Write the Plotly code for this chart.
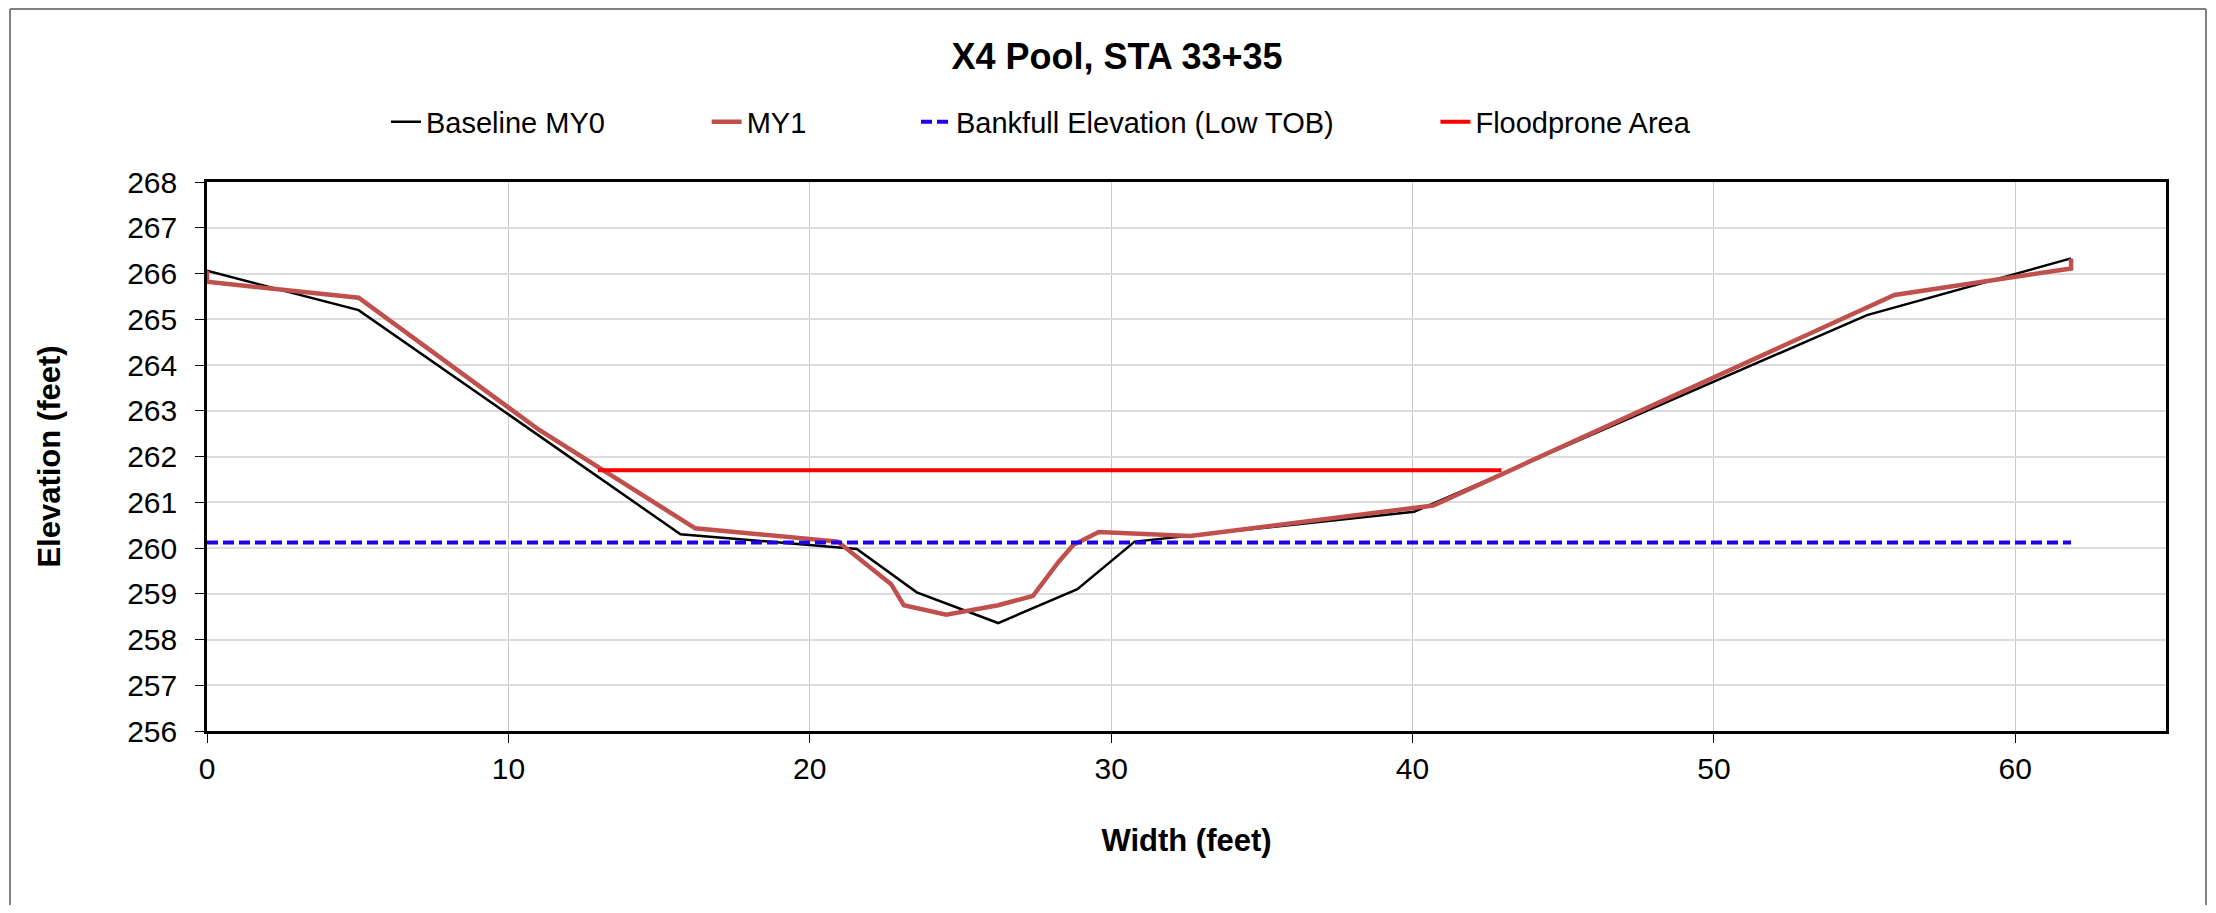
import plotly.graph_objects as go

# cross-section survey, X4 pool, STA 33+35
baseline_x = [0, 5.03, 15.71, 21.56, 23.55, 26.25, 28.88, 30.78, 40.05, 55.08, 61.85]
baseline_y = [266.06, 265.20, 260.30, 259.98, 259.03, 258.36, 259.10, 260.14, 260.79, 265.09, 266.33]

my1_x = [0, 0, 5.03, 11.0, 16.20, 20.93, 22.70, 23.12, 24.53, 26.25, 27.40, 28.26, 28.75, 29.59,
         32.63, 40.69, 55.99, 61.85, 61.85]
my1_y = [266.06, 265.82, 265.47, 262.59, 260.43, 260.14, 259.21, 258.75, 258.54, 258.75, 258.95, 259.70,
         260.07, 260.35, 260.26, 260.93, 265.53, 266.11, 266.33]

bankfull_x = [0, 61.85]
bankfull_y = [260.12, 260.12]

floodprone_x = [12.97, 42.95]
floodprone_y = [261.70, 261.70]

FONT = "Liberation Sans, Arial, sans-serif"
pad = "\u00a0"

# the page body has an 8px margin, so the figure sits 8px in from the corner;
# keep it small enough that no scrollbar shows up
OFF = 8
W, H = 2216 - 2 * OFF, 913 - 2 * OFF
L, T = 207 - OFF, 182 - OFF
PW, PH = 1959, 549


def px_x(p):
    return (p - OFF - L) / PW


def px_y(p):
    return (T + PH - (p - OFF)) / PH


fig = go.Figure()
fig.add_trace(go.Scatter(x=baseline_x, y=baseline_y, mode="lines", name="Baseline MY0" + pad * 12,
                         line=dict(color="black", width=2.5)))
fig.add_trace(go.Scatter(x=my1_x, y=my1_y, mode="lines", name="MY1" + pad * 13,
                         line=dict(color="#C0504D", width=4.5)))
fig.add_trace(go.Scatter(x=bankfull_x, y=bankfull_y, mode="lines", name="Bankfull Elevation (Low TOB)" + pad * 12,
                         line=dict(color="#2000F0", width=4, dash="11px,5px")))
fig.add_trace(go.Scatter(x=floodprone_x, y=floodprone_y, mode="lines", name="Floodprone Area",
                         line=dict(color="#FF0000", width=4)))

fig.update_layout(
    width=W, height=H,
    margin=dict(l=L, r=W - L - PW, t=T, b=H - T - PH),
    paper_bgcolor="white", plot_bgcolor="white",
    font=dict(family=FONT, size=30, color="black"),
    title=dict(text="<b>X4 Pool, STA 33+35</b>", x=(1117 - OFF) / W, xanchor="center",
               y=1 - (56 - OFF) / H, yanchor="middle", font=dict(size=36, family=FONT)),
    showlegend=True,
    legend=dict(orientation="h", x=px_x(386), xanchor="left",
                y=px_y(122), yanchor="middle",
                font=dict(size=29, family=FONT), bgcolor="rgba(0,0,0,0)"),
)

fig.update_xaxes(range=[0, 65], dtick=10, tick0=0,
                 showgrid=True, gridcolor="#C8C8C8", gridwidth=1, zeroline=False,
                 showline=True, linecolor="black", linewidth=2.5, mirror=True,
                 ticks="outside", ticklen=9, tickcolor="black", tickwidth=1,
                 title=dict(text="<b>Width (feet)</b>", font=dict(size=31), standoff=46))
fig.update_yaxes(range=[256, 268], dtick=1, tick0=256,
                 showgrid=True, gridcolor="#DCDCDC", gridwidth=2, zeroline=False,
                 showline=True, linecolor="black", linewidth=2.5, mirror=True,
                 ticks="outside", ticklen=9, tickcolor="black", tickwidth=1,
                 ticklabelstandoff=12,
                 title=dict(text="<b>Elevation (feet)</b>", font=dict(size=31), standoff=58))

# outer chart frame: left, top and right edges (the bottom runs off the page)
fx0, fx1 = px_x(10), px_x(OFF + W - 2)
fy0, fy1 = px_y(OFF + H + 10), px_y(OFF + 1)
frame = dict(color="#808080", width=2)
for x0, y0, x1, y1 in [(fx0, fy0, fx0, fy1), (fx0, fy1, fx1, fy1), (fx1, fy1, fx1, fy0)]:
    fig.add_shape(type="line", xref="paper", yref="paper", x0=x0, y0=y0, x1=x1, y1=y1,
                  line=frame, layer="below")

fig.write_html("out.html")
